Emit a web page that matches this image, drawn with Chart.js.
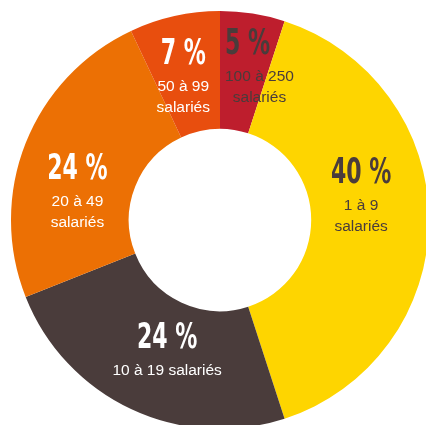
<!DOCTYPE html>
<html lang="fr">
<head>
<meta charset="utf-8">
<script src="https://cdn.jsdelivr.net/npm/chart.js@4/dist/chart.umd.min.js"></script>
<style>
	html, body { margin: 0; padding: 0; background: #fff; overflow: hidden; }
	#wrap { position: absolute; left: 0; top: 0; width: 440px; height: 440px; }
</style>
</head>
<body>
<div id="wrap"><canvas id="size-chart" width="440" height="440"></canvas></div>
<script>
const categories = ['100 à 250 salariés', '1 à 9 salariés', '10 à 19 salariés', '20 à 49 salariés', '50 à 99 salariés'];
const shares = [5, 40, 24, 24, 7];
// how each label is broken into lines under the percentage
const labelLines = [['100 à 250', 'salariés'], ['1 à 9', 'salariés'], ['10 à 19 salariés'], ['20 à 49', 'salariés'], ['50 à 99', 'salariés']];

const colors = ['#BE1E2D', '#FED500', '#4A3C3B', '#EC7004', '#E84E0E'];
const textColors = ['#4A3C3B', '#4A3C3B', '#fff', '#fff', '#fff'];
// nudge from slice centroid to title centre [dx, dy, extra dx for sub lines]
const nudges = [[4, -27, 12], [-9, -46, 0], [11, -17, 0], [-3, 5, 0], [-4, -19, 0]];

const sliceLabels = {
	id: 'sliceLabels',
	afterDatasetsDraw(chart) {
		const ctx = chart.ctx;
		const arcs = chart.getDatasetMeta(0).data;

		ctx.save();
		ctx.textAlign = 'center';
		ctx.textBaseline = 'middle';

		arcs.forEach((arc, i) => {
			const p = arc.tooltipPosition();
			const [dx, dy, sdx] = nudges[i];
			const x = p.x + dx, y = p.y + dy;

			ctx.fillStyle = textColors[i];

			// no narrow font installed, so squeeze the bold one
			ctx.save();
			ctx.translate(x, y);
			ctx.scale(0.7, 1);
			ctx.font = "bold 35px 'DejaVu Sans Condensed', sans-serif";
			ctx.fillText(shares[i] + ' %', 0, 0);
			ctx.restore();

			ctx.font = "15.5px 'Liberation Sans', Arial, sans-serif";
			labelLines[i].forEach((line, j) => {
				ctx.fillText(line, x + sdx, y + 32 + j * 21);
			});
		});

		ctx.restore();
	}
};

new Chart(document.getElementById('size-chart'), {
	type: 'doughnut',
	data: {
		labels: categories,
		datasets: [{
			data: shares,
			backgroundColor: colors,
			borderWidth: 0,
			radius: 209,
			cutout: 96
		}]
	},
	options: {
		responsive: false,
		animation: false,
		rotation: 0,
		plugins: {
			legend: { display: false },
			tooltip: { enabled: false }
		}
	},
	plugins: [sliceLabels]
});
</script>
</body>
</html>
